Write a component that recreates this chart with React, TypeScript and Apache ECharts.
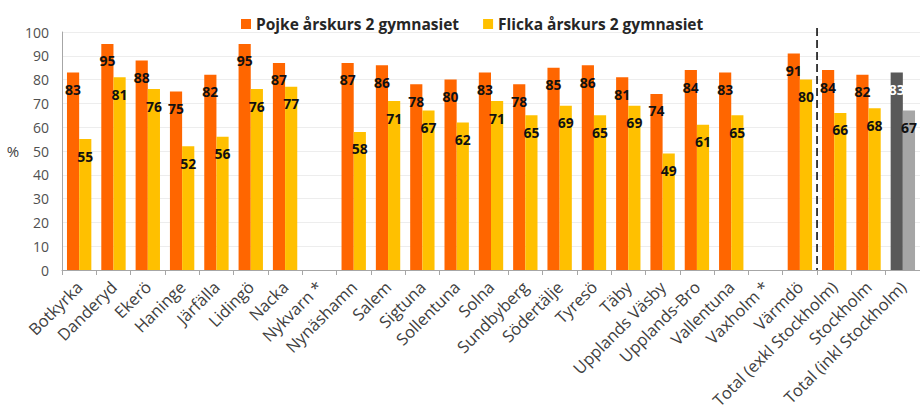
import React, { useEffect, useRef } from "react";
import * as echarts from "echarts";

const categories = [
  "Botkyrka", "Danderyd", "Ekerö", "Haninge", "Järfälla", "Lidingö", "Nacka", "Nykvarn *",
  "Nynäshamn", "Salem", "Sigtuna", "Sollentuna", "Solna", "Sundbyberg", "Södertälje", "Tyresö",
  "Täby", "Upplands Väsby", "Upplands-Bro", "Vallentuna", "Vaxholm *", "Värmdö",
  "Total (exkl Stockholm)", "Stockholm", "Total (inkl Stockholm)",
];
const pojke = [83, 95, 88, 75, 82, 95, 87, null, 87, 86, 78, 80, 83, 78, 85, 86, 81, 74, 84, 83, null, 91, 84, 82, 83];
const flicka = [55, 81, 76, 52, 56, 76, 77, null, 58, 71, 67, 62, 71, 65, 69, 65, 69, 49, 61, 65, null, 80, 66, 68, 67];
const yTicks = { min: 0, max: 100, interval: 10 };
const seriesNames = ["Pojke årskurs 2 gymnasiet", "Flicka årskurs 2 gymnasiet"];

const FONT = "'Open Sans', sans-serif";

export default function App() {
  const ref = useRef<HTMLDivElement>(null);
  useEffect(() => {
    document.body.style.margin = "0";
    const chart = echarts.init(ref.current!, undefined, { renderer: "svg" });
    const last = categories.length - 1;
    const mk = (vals: (number | null)[], special: { color: string; label: string }) =>
      vals.map((v, i) =>
        i === last
          ? { value: v, itemStyle: { color: special.color }, label: { color: special.label } }
          : v === null ? "-" : v
      );
    const labelCfg = {
      show: true,
      position: "insideTop" as const,
      distance: 10,
      color: "#111",
      fontFamily: FONT,
      fontWeight: "bold" as const,
      fontSize: 14,
    };
    chart.setOption({
      animation: false,
      textStyle: { fontFamily: FONT },
      legend: {
        top: 11,
        left: 236,
        itemWidth: 10,
        itemHeight: 10,
        itemGap: 24,
        icon: "rect",
        textStyle: { fontFamily: FONT, fontWeight: "bold", fontSize: 15.5, color: "#262626" },
        data: seriesNames,
      },
      grid: { left: 62, top: 32, width: 861, height: 238, containLabel: false },
      xAxis: {
        type: "category",
        data: categories,
        axisLine: { lineStyle: { color: "#A6A6A6", width: 1 } },
        axisTick: { show: true, alignWithLabel: false, length: 5, lineStyle: { color: "#A6A6A6" } },
        axisLabel: { rotate: 45, interval: 0, fontFamily: FONT, fontSize: 16.5, color: "#404040", margin: 14 },
      },
      yAxis: {
        type: "value",
        min: yTicks.min,
        max: yTicks.max,
        interval: yTicks.interval,
        name: "%",
        nameLocation: "middle",
        nameRotate: 0,
        nameGap: 40,
        nameTextStyle: { fontFamily: FONT, fontSize: 15, color: "#404040" },
        axisLine: { show: true, lineStyle: { color: "#A6A6A6" } },
        axisTick: { show: false },
        axisLabel: { fontFamily: FONT, fontSize: 14, color: "#505050", margin: 13 },
        splitLine: { lineStyle: { color: "#EDEDED" } },
      },
      series: [
        {
          name: seriesNames[0],
          type: "bar",
          data: mk(pojke, { color: "#595959", label: "#FFFFFF" }),
          itemStyle: { color: "#FF6600" },
          barGap: "0%",
          barCategoryGap: "29%",
          label: labelCfg,
        },
        {
          name: seriesNames[1],
          type: "bar",
          data: mk(flicka, { color: "#A6A6A6", label: "#111" }),
          itemStyle: { color: "#FFC000" },
          label: labelCfg,
        },
      ],
    });
    const iA = categories.indexOf("Värmdö");
    const xa = chart.convertToPixel({ xAxisIndex: 0 }, categories[iA]) as number;
    const xb = chart.convertToPixel({ xAxisIndex: 0 }, categories[iA + 1]) as number;
    const x = (xa + xb) / 2;
    const yTop = (chart.convertToPixel({ yAxisIndex: 0 }, yTicks.max) as number) - 4;
    const yBot = chart.convertToPixel({ yAxisIndex: 0 }, yTicks.min) as number;
    chart.setOption({
      graphic: [
        {
          type: "line",
          shape: { x1: x, y1: yTop, x2: x, y2: yBot },
          style: { stroke: "#000", lineWidth: 1.5, lineDash: [8, 4] },
          z: 10,
        },
      ],
    });
    return () => chart.dispose();
  }, []);
  return <div ref={ref} style={{ width: 920, height: 416 }} />;
}
